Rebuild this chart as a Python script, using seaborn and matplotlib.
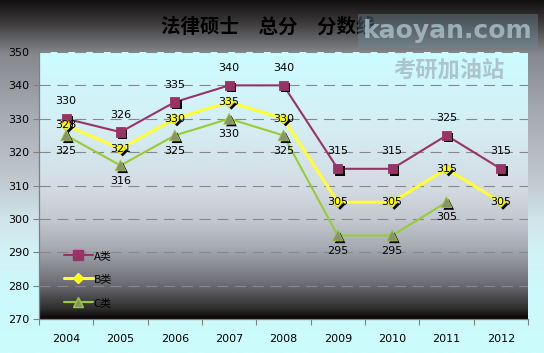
import numpy as np
import pandas as pd
import seaborn as sns
import matplotlib
matplotlib.use("Agg")
import matplotlib.pyplot as plt
import matplotlib.patheffects as pe
from matplotlib.colors import LinearSegmentedColormap
from matplotlib.lines import Line2D

# ---------------- data ----------------
years = ["2004", "2005", "2006", "2007", "2008", "2009", "2010", "2011", "2012"]
a_scores = [330, 326, 335, 340, 340, 315, 315, 325, 315]
b_scores = [328, 321, 330, 335, 330, 305, 305, 315, 305]
c_scores = [325, 316, 325, 330, 325, 295, 295, 305, np.nan]
series_names = ["A类", "B类", "C类"]
title_text = "法律硕士　总分　分数线"
y_ticks = [270, 280, 290, 300, 310, 320, 330, 340, 350]

sns.set_theme(style="white")
plt.rcParams["font.family"] = ["Noto Sans CJK SC", "DejaVu Sans"]

W, H = 544, 353
fig = plt.figure(figsize=(W / 100, H / 100), dpi=100)

# figure background gradient
bg_cmap = LinearSegmentedColormap.from_list("figbg", [
    (0.0, "#121010"), (0.06, "#3a3838"), (0.15, "#85878c"), (0.33, "#a8acb4"),
    (0.52, "#c2cad2"), (0.63, "#d0e6ec"), (0.72, "#d2f2f6"), (0.82, "#ccf9fb"),
    (1.0, "#ccfcfc")])
bgax = fig.add_axes([0, 0, 1, 1], zorder=-10)
bgax.imshow(np.linspace(0, 1, 256).reshape(-1, 1), aspect="auto", cmap=bg_cmap,
            extent=[0, 1, 0, 1], origin="upper")
bgax.axis("off")

left, right, top, bottom = 39, 528, 52, 319
ax = fig.add_axes([left / W, 1 - bottom / H, (right - left) / W, (bottom - top) / H])
ax.set_facecolor("none")

plot_cmap = LinearSegmentedColormap.from_list("plotbg", [
    (0.0, "#ccfcfe"), (0.25, "#d4f0f6"), (0.5, "#d4dce4"), (0.63, "#c4c8d0"),
    (0.74, "#a4a8b0"), (0.87, "#6c6c74"), (0.96, "#303030"), (1.0, "#0c0404")])
ax.imshow(np.linspace(0, 1, 256).reshape(-1, 1), aspect="auto", cmap=plot_cmap,
          extent=[-0.5, len(years) - 0.5, 270, 350], origin="upper", zorder=0)

x_idx = np.arange(len(years))
specs = [
    (series_names[0], a_scores, "#993366", 1.5, "s", "#993366", "#993366", 45, 12.5),
    (series_names[1], b_scores, "#ffff33", 2.2, "D", "#ffff00", "#e0e000", 30, 0),
    (series_names[2], c_scores, "#99cc33", 1.5, "^", "#8a9070", "#99cc33", 60, -11),
]
shadow = [pe.SimplePatchShadow(offset=(1.6, -1.6), shadow_rgbFace="black", alpha=1.0), pe.Normal()]

for name, vals, lc, lw, mk, mfc, mec, ms, off in specs:
    sns.lineplot(x=x_idx, y=vals, ax=ax, color=lc, lw=lw, legend=False, zorder=3)
    sns.scatterplot(x=x_idx, y=vals, ax=ax, marker=mk, s=ms, color=mfc, edgecolor=mec,
                    linewidth=0.6, zorder=4, legend=False, path_effects=shadow)
    for i, v in zip(x_idx, vals):
        if np.isnan(v):
            continue
        ax.annotate(f"{int(v)}", (i, v), xytext=(0, off), textcoords="offset points",
                    ha="center", va="center", fontsize=8, color="black",
                    family="DejaVu Sans", zorder=6)

ax.set_xlim(-0.5, len(years) - 0.5)
ax.set_ylim(270, 350)
ax.set_yticks(y_ticks)
ax.set_yticklabels([str(t) for t in y_ticks], fontsize=8, family="DejaVu Sans")
ax.set_xticks(x_idx)
ax.set_xticklabels(years, fontsize=8, family="DejaVu Sans")
ax.set_xticks(np.arange(-0.5, len(years)), minor=True)
ax.tick_params(axis="x", which="major", length=0, pad=11, colors="black")
ax.tick_params(axis="x", which="minor", length=4, width=0.8, color="#808080", direction="out", bottom=True)
ax.tick_params(axis="y", which="major", length=4, width=0.8, color="#808080", direction="out", pad=3, left=True,
               labelcolor="black")
ax.set_xlabel("")
ax.set_ylabel("")

for y in y_ticks[1:]:
    ax.axhline(y, color="#888888", lw=0.8, linestyle=(0, (10, 6)), zorder=1)

for s in ["top", "right"]:
    ax.spines[s].set_visible(False)
for s in ["left", "bottom"]:
    ax.spines[s].set_color("#808080")
    ax.spines[s].set_linewidth(0.9)

handles = [
    Line2D([], [], color="#993366", lw=1.5, marker="s", markersize=6.5, markerfacecolor="#993366"),
    Line2D([], [], color="#ffff33", lw=2.2, marker="D", markersize=5, markerfacecolor="#ffff00"),
    Line2D([], [], color="#99cc33", lw=1.5, marker="^", markersize=7, markerfacecolor="#8a9070"),
]
ax.legend(handles, series_names, loc="lower left", bbox_to_anchor=(0.03, 0.005), frameon=False,
          fontsize=8, handlelength=2.6, handletextpad=0.1, labelspacing=1.2, labelcolor="black")

fig.text(268 / W, 1 - 27 / H, title_text, ha="center", va="center", fontsize=14,
         fontweight="bold", color="black", family=["Noto Sans CJK SC", "DejaVu Sans"])

# watermark texts
fig.text(448 / W, 1 - 31 / H, "kaoyan.com", ha="center", va="center", fontsize=18,
         fontweight="bold", color="#a8bcc6", alpha=0.85, family="DejaVu Sans",
         bbox=dict(boxstyle="square,pad=0.2", facecolor="#6f8c9a", edgecolor="none", alpha=0.4))
fig.text(449 / W, 1 - 70 / H, "考研加油站", ha="center", va="center", fontsize=16,
         fontweight="bold", color="#a9bfc7", alpha=0.9, family="Noto Sans CJK SC")

fig.savefig("out.png", dpi=100)
